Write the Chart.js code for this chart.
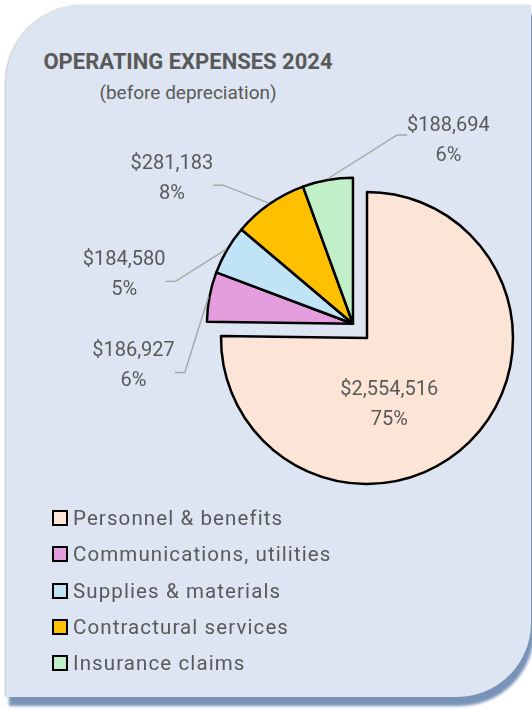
<!DOCTYPE html>
<html>
<head>
<meta charset="utf-8">
<script src="https://cdn.jsdelivr.net/npm/chart.js@4/dist/chart.umd.min.js"></script>
<style>
  html, body { margin: 0; padding: 0; background: #ffffff; width: 532px; height: 710px; overflow: hidden; }
  body { position: relative; font-family: Roboto, "Liberation Sans", sans-serif; color: #595959; }
  #card {
    position: absolute; left: 6px; top: 5px; width: 525px; height: 692px;
    background: #dce5f1;
    border-radius: 78px 0 74px 0;
    box-shadow: 3px 9px 3px #7893b7, -1px 0 2px rgba(80, 80, 80, 0.35);
  }
  #title {
    position: absolute; left: 0; width: 376px; top: 51px;
    text-align: center; font: bold 22px/22px Roboto, sans-serif; color: #595959;
  }
  #subtitle {
    position: absolute; left: 0; width: 376px; top: 83px;
    text-align: center; font: 19px/19px Roboto, sans-serif; color: #595959;
  }
  #chart { position: absolute; left: 0; top: 0; }
  #legend { position: absolute; left: 52px; top: 500px; }
  .row { display: flex; align-items: center; height: 36.25px; }
  .box { width: 16px; height: 16px; box-sizing: border-box; border: 2px solid #000; margin-right: 5px; }
  .txt { font: 20.5px Roboto, sans-serif; color: #595959; letter-spacing: 1.1px; white-space: nowrap; }
</style>
</head>
<body>
<div id="card"></div>
<div id="title">OPERATING EXPENSES 2024</div>
<div id="subtitle">(before depreciation)</div>
<canvas id="chart" width="532" height="710"></canvas>
<div id="legend"></div>
<script>
// Expense categories and 2024 amounts (USD)
const categories = [
  'Personnel & benefits',
  'Communications, utilities',
  'Supplies & materials',
  'Contractural services',
  'Insurance claims'
];
const amounts = [2554516, 186927, 184580, 281183, 188694];
const sliceColors = ['#fce4d6', '#e59edd', '#c0e4f5', '#ffc000', '#c1f0c8'];

// Label placement: first entry is relative to the slice centroid,
// the others relative to the outer edge at each slice's mid-angle.
const labelNudge = [[-29, 15], [-75, 70], [-102, 26], [-97, -24], [121, -38]];
const explodeGap = 20;   // the small slices are pulled out together
const textColor = '#595959';

const total = amounts.reduce((s, v) => s + v, 0);
const money = v => '$' + v.toLocaleString('en-US');

function groupShift(meta) {
  const first = meta.data[1];
  const last = meta.data[meta.data.length - 1];
  const mid = (first.startAngle + last.endAngle) / 2;
  return { dx: Math.cos(mid) * explodeGap, dy: Math.sin(mid) * explodeGap };
}

const groupedPie = {
  id: 'groupedPie',
  beforeDatasetDraw(chart, args) {
    const ctx = chart.ctx;
    const meta = args.meta;
    const sh = groupShift(meta);
    meta.data.forEach((arc, i) => {
      ctx.save();
      if (i > 0) ctx.translate(sh.dx, sh.dy);
      arc.draw(ctx, chart.chartArea);
      ctx.restore();
    });
    return false;
  },
  afterDatasetsDraw(chart) {
    const ctx = chart.ctx;
    const meta = chart.getDatasetMeta(0);
    const sh = groupShift(meta);
    ctx.save();
    ctx.font = '20px Roboto, sans-serif';
    ctx.fillStyle = textColor;
    ctx.textAlign = 'center';
    ctx.textBaseline = 'middle';
    meta.data.forEach((arc, i) => {
      const p = arc.getProps(['x', 'y', 'startAngle', 'endAngle', 'outerRadius'], true);
      const lines = [money(amounts[i]), Math.round(amounts[i] / total * 100) + '%'];
      const [nx, ny] = labelNudge[i];
      let cx, cy;
      if (i === 0) {
        const c = arc.tooltipPosition(true);
        cx = c.x + nx; cy = c.y + ny;
      } else {
        const mid = (p.startAngle + p.endAngle) / 2;
        const ax = p.x + sh.dx + Math.cos(mid) * (p.outerRadius + 1);
        const ay = p.y + sh.dy + Math.sin(mid) * (p.outerRadius + 1);
        cx = ax + nx; cy = ay + ny;
        const halfW = Math.max(...lines.map(t => ctx.measureText(t).width)) / 2;
        const side = nx < 0 ? 1 : -1;
        const ex = cx + side * halfW;
        const ey = cy + (side > 0 ? 6 : -6);
        const bx = ex + side * 10;
        ctx.save();
        ctx.strokeStyle = '#a6a6a6';
        ctx.lineWidth = 1.4;
        ctx.beginPath();
        ctx.moveTo(ax, ay);
        ctx.lineTo(bx, ey);
        ctx.lineTo(ex, ey);
        ctx.stroke();
        ctx.restore();
      }
      ctx.fillText(lines[0], cx, cy - 15);
      ctx.fillText(lines[1], cx, cy + 15);
    });
    ctx.restore();
  }
};

const chart = new Chart(document.getElementById('chart'), {
  type: 'pie',
  data: {
    labels: categories,
    datasets: [{
      data: amounts,
      backgroundColor: sliceColors,
      borderColor: '#000000',
      borderWidth: 2.5,
      borderJoinStyle: 'round'
    }]
  },
  options: {
    responsive: false,
    animation: false,
    devicePixelRatio: 1,
    events: [],
    radius: 146,
    layout: { padding: { left: 221, top: 192, right: 19, bottom: 226 } },
    plugins: { legend: { display: false }, tooltip: { enabled: false } }
  },
  plugins: [groupedPie]
});

// Legend list built from the chart's own legend items
const legendEl = document.getElementById('legend');
Chart.overrides.doughnut.plugins.legend.labels.generateLabels(chart).forEach(item => {
  const row = document.createElement('div');
  row.className = 'row';
  const box = document.createElement('span');
  box.className = 'box';
  box.style.background = item.fillStyle;
  const txt = document.createElement('span');
  txt.className = 'txt';
  txt.textContent = item.text;
  row.appendChild(box);
  row.appendChild(txt);
  legendEl.appendChild(row);
});
</script>
</body>
</html>
